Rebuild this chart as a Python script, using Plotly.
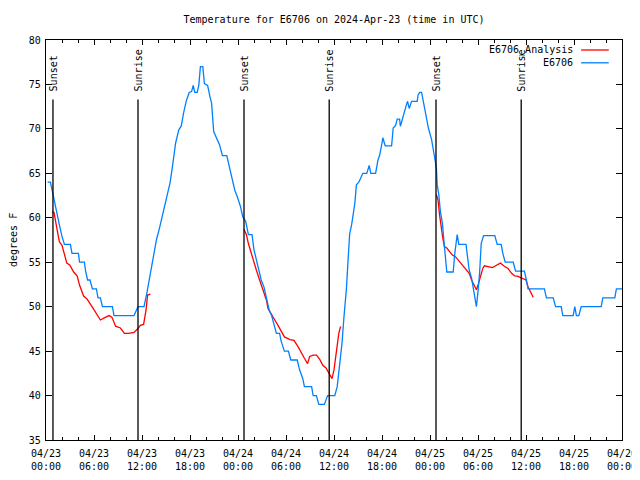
import pandas as pd
import plotly.graph_objects as go

# ---------------- data ----------------
start = pd.Timestamp("2024-04-23 00:00")

# E6706 observations: hours since 2024-04-23 00:00 UTC, degrees F
obs_hours = [0.2, 0.55, 0.84, 1.09, 1.38, 1.67, 2.0, 2.3, 3.05, 3.25, 4.05, 4.2, 4.8, 4.95, 5.2, 5.5,
             5.8, 6.3, 6.5, 6.8, 7.05, 8.3, 8.5, 11.0, 11.5, 12.25, 12.6, 12.96, 13.4, 13.8, 14.2,
             14.6, 15.05, 15.5, 15.75, 16.0, 16.2, 16.6, 16.9, 17.2, 17.55, 17.9, 18.2, 18.4, 18.6,
             18.9, 19.1, 19.3, 19.6, 19.8, 20.2, 20.5, 20.7, 20.96, 21.4, 21.7, 22.05, 22.6, 22.9,
             23.25, 23.6, 23.9, 24.3, 24.6, 24.96, 25.3, 25.75, 26.0, 26.3, 26.6, 26.9, 27.25,
             27.55, 27.9, 28.2, 28.5, 28.8, 29.2, 29.4, 29.8, 30.3, 30.6, 31.4, 31.7, 32.1, 32.3,
             33.2, 33.4, 33.8, 34.1, 34.8, 35.2, 36.1, 36.4, 36.7, 37.0, 37.25, 37.55, 37.75, 37.96,
             38.2, 38.4, 38.6, 38.8, 39.1, 39.3, 39.6, 40.1, 40.4, 40.6, 41.2, 41.5, 41.7, 42.0,
             42.1, 42.4, 43.2, 43.4, 43.7, 43.9, 44.2, 44.3, 44.55, 44.75, 45.05, 45.2, 45.4, 45.7,
             46.4, 46.5, 46.7, 46.95, 47.2, 47.55, 47.8, 48.2, 48.5, 48.7, 48.8, 48.9, 49.1, 49.3,
             49.55, 49.8, 50.1, 50.9, 51.1, 51.4, 51.6, 52.5, 52.6, 52.9, 53.2, 53.5, 53.8, 54.0,
             54.2, 54.4, 54.7, 56.1, 56.4, 56.9, 57.1, 57.4, 58.4, 58.7, 59.8, 60.05, 60.25, 62.3,
             62.55, 63.4, 63.7, 64.4, 64.6, 65.9, 66.1, 66.3, 66.6, 66.9, 69.4, 69.6, 71.1, 71.3, 72.0]
obs_temps = [64.0, 64.0, 62.8, 61.6, 60.5, 59.2, 57.9, 57.0, 57.0, 56.0, 56.0, 55.0, 55.0, 54.0, 53.0, 53.0,
             52.0, 52.0, 51.0, 51.0, 50.0, 50.0, 49.0, 49.0, 50.0, 50.0, 51.5, 53.4, 55.3, 57.5, 58.9,
             60.5, 62.2, 63.9, 65.4, 67.2, 68.4, 69.9, 70.3, 71.8, 73.2, 74.1, 74.2, 74.9, 74.1,
             74.1, 74.9, 77.0, 77.0, 75.1, 74.9, 73.6, 72.9, 69.7, 68.9, 68.2, 67.0, 67.0, 65.8,
             64.3, 63.1, 62.4, 61.3, 60.1, 59.6, 58.1, 58.1, 56.4, 55.3, 53.9, 53.0, 52.2,
             51.1, 49.6, 49.0, 48.0, 47.0, 47.0, 46.1, 45.0, 45.0, 44.0, 44.0, 42.9, 41.9, 41.0,
             41.0, 40.0, 40.0, 39.0, 39.0, 40.0, 40.0, 41.0, 43.2, 45.9, 48.9, 52.0, 55.1, 58.2,
             59.2, 60.5, 61.6, 63.7, 64.0, 64.4, 65.0, 65.0, 65.9, 65.0, 65.0, 66.5, 67.0, 68.4,
             69.0, 68.1, 68.1, 70.1, 70.4, 71.1, 71.1, 70.3, 71.2, 71.9, 72.7, 73.1, 72.3, 73.1,
             73.1, 73.8, 74.1, 74.1, 73.0, 71.6, 70.1, 68.8, 67.4, 66.3, 65.6, 63.7, 62.6, 60.7,
             59.4, 56.8, 53.9, 53.9, 56.0, 58.1, 57.0, 57.0, 56.2, 54.1, 53.2, 51.7, 50.0, 51.7,
             53.8, 57.1, 58.0, 58.0, 57.0, 57.0, 56.0, 55.0, 55.0, 54.0, 54.0, 53.0, 52.0, 52.0,
             51.0, 51.0, 50.0, 50.0, 49.0, 49.0, 50.0, 49.0, 49.0, 50.0, 50.0, 51.0, 51.0, 52.0, 52.0]

# E6706 analysis (None separates the three nightly runs)
ana_hours = [0.75, 1.0, 1.4, 1.67, 2.0, 2.3, 2.6, 2.96, 3.46, 3.9, 4.2, 4.7, 5.1, 5.75, 6.2, 6.8, 7.4,
             7.9, 8.25, 8.7, 9.3, 9.8, 10.3, 11.0, 11.4, 11.8, 12.2, 12.5, 12.7, 13.05, None,
             24.75, 25.05, 25.3, 25.7, 26.0, 26.3, 26.7, 27.1, 27.55, 27.75, 28.2, 28.6, 29.0, 29.4,
             29.8, 30.5, 31.0, 31.5, 31.9, 32.3, 32.7, 32.96, 33.4, 33.8, 34.2, 34.6, 35.0, 35.4,
             35.75, 36.0, 36.3, 36.6, 36.8, 36.9, None,
             48.8, 49.0, 49.2, 49.4, 49.6, 49.8, 50.1, 50.45, 50.8, 51.2, 51.7, 52.1, 52.55, 52.9,
             53.2, 53.5, 53.8, 54.0, 54.3, 54.6, 54.8, 55.25, 55.8, 56.2, 56.8, 57.2, 57.75, 58.2,
             58.6, 59.0, 59.6, 60.0, 60.25, 60.55, 60.9]
ana_temps = [60.7, 60.6, 58.6, 57.3, 56.9, 56.0, 54.9, 54.7, 53.9, 53.45, 52.4, 51.2, 50.9, 50.0, 49.4, 48.5, 48.8,
             49.0, 48.8, 47.8, 47.6, 47.0, 47.0, 47.1, 47.45, 47.9, 48.0, 49.6, 51.3, 51.4, None,
             58.7, 58.1, 57.1, 55.8, 55.05, 54.1, 53.0, 52.05, 50.75, 49.8, 49.05, 48.5, 47.9, 47.2,
             46.6, 46.3, 46.2, 45.5, 44.8, 44.2, 43.6, 44.4, 44.55, 44.55, 44.1, 43.4, 43.1, 42.5,
             41.9, 42.9, 45.1, 47.0, 47.7, 47.7, None,
             62.6, 62.0, 60.3, 58.8, 57.7, 56.75, 56.6, 56.2, 55.8, 55.6, 55.05, 54.7, 54.2, 53.75,
             53.0, 52.4, 51.9, 52.4, 53.4, 54.3, 54.6, 54.5, 54.4, 54.6, 54.9, 54.6, 54.3, 53.75,
             53.45, 53.4, 53.2, 53.0, 52.25, 51.7, 51.05]

sunset_hours = [0.87, 24.75, 48.75]
sunrise_hours = [11.5, 35.4, 59.4]

y_ticks = [35, 40, 45, 50, 55, 60, 65, 70, 75, 80]

# ---------------- helpers ----------------
def to_time(hours):
    return [None if h is None else start + pd.Timedelta(hours=h) for h in hours]

FONT = "DejaVu Sans Mono"
RED = "#ff0000"
BLUE = "#0080ff"
W, H = 640, 464  # page body adds an 8px offset inside the 640x480 window

fig = go.Figure()
fig.add_trace(go.Scatter(x=to_time(ana_hours), y=ana_temps, mode="lines",
                         line=dict(color=RED, width=1.3), name="E6706_Analysis",
                         connectgaps=False, showlegend=False))
fig.add_trace(go.Scatter(x=to_time(obs_hours), y=obs_temps, mode="lines",
                         line=dict(color=BLUE, width=1.3), name="E6706", showlegend=False))

# Sunset / sunrise markers
for hrs, label in ((sunset_hours, "Sunset"), (sunrise_hours, "Sunrise")):
    for t in to_time(hrs):
        fig.add_shape(type="line", xref="x", yref="y", x0=t, x1=t, y0=35, y1=73.3,
                      line=dict(color="black", width=1.3))
        fig.add_annotation(x=t, y=74.1, xref="x", yref="y", text=label, textangle=-90,
                           showarrow=False, xanchor="center", yanchor="bottom", borderpad=0,
                           font=dict(family=FONT, size=10, color="black"))

# gnuplot-style legend (text, then line sample on the right)
legend_rows = [("E6706_Analysis", RED, 0.975), ("E6706", BLUE, 0.943)]
for text, col, yp in legend_rows:
    fig.add_annotation(x=0.917, y=yp, xref="paper", yref="paper", text=text, showarrow=False,
                       xanchor="right", yanchor="middle", borderpad=0,
                       font=dict(family=FONT, size=10, color="black"))
    fig.add_shape(type="line", xref="paper", yref="paper", x0=0.929, x1=0.977, y0=yp, y1=yp,
                  line=dict(color=col, width=1.3))

# y-axis label
fig.add_annotation(x=-33 / 576, y=0.5, xref="paper", yref="paper", text="degrees F",
                   textangle=-90, showarrow=False, xanchor="center", yanchor="middle",
                   borderpad=0, font=dict(family=FONT, size=10, color="black"))

fig.update_layout(
    width=W, height=H,
    margin=dict(l=38, r=26, t=32, b=32, autoexpand=False),
    paper_bgcolor="white", plot_bgcolor="white",
    font=dict(family=FONT, size=10, color="black"),
    title=dict(text="Temperature for E6706 on 2024-Apr-23 (time in UTC)",
               x=0.5, xanchor="center", xref="paper", y=1 - 11 / H, yanchor="middle",
               font=dict(family=FONT, size=10, color="black")),
    showlegend=False,
)
fig.update_xaxes(
    type="date", automargin=False,
    range=[start, start + pd.Timedelta(hours=72)],
    tick0=start, dtick=6 * 3600 * 1000,
    tickformat="%m/%d<br>%H:%M",
    ticks="inside", ticklen=5, tickcolor="black", tickwidth=1,
    ticklabelstandoff=4,
    minor=dict(ticks="inside", dtick=2 * 3600 * 1000, ticklen=3, tickcolor="black", tickwidth=1,
               showgrid=False),
    showline=True, linecolor="black", linewidth=1.3, mirror="ticks",
    showgrid=False, zeroline=False,
    tickfont=dict(family=FONT, size=10, color="black"),
)
fig.update_yaxes(
    automargin=False,
    range=[35, 80], tickvals=y_ticks, ticktext=[str(v) for v in y_ticks],
    ticks="inside", ticklen=6, tickcolor="black", tickwidth=1,
    ticklabelstandoff=2,
    showline=True, linecolor="black", linewidth=1.3, mirror="ticks",
    showgrid=False, zeroline=False,
    tickfont=dict(family=FONT, size=10, color="black"),
)

fig.write_html("out.html")
